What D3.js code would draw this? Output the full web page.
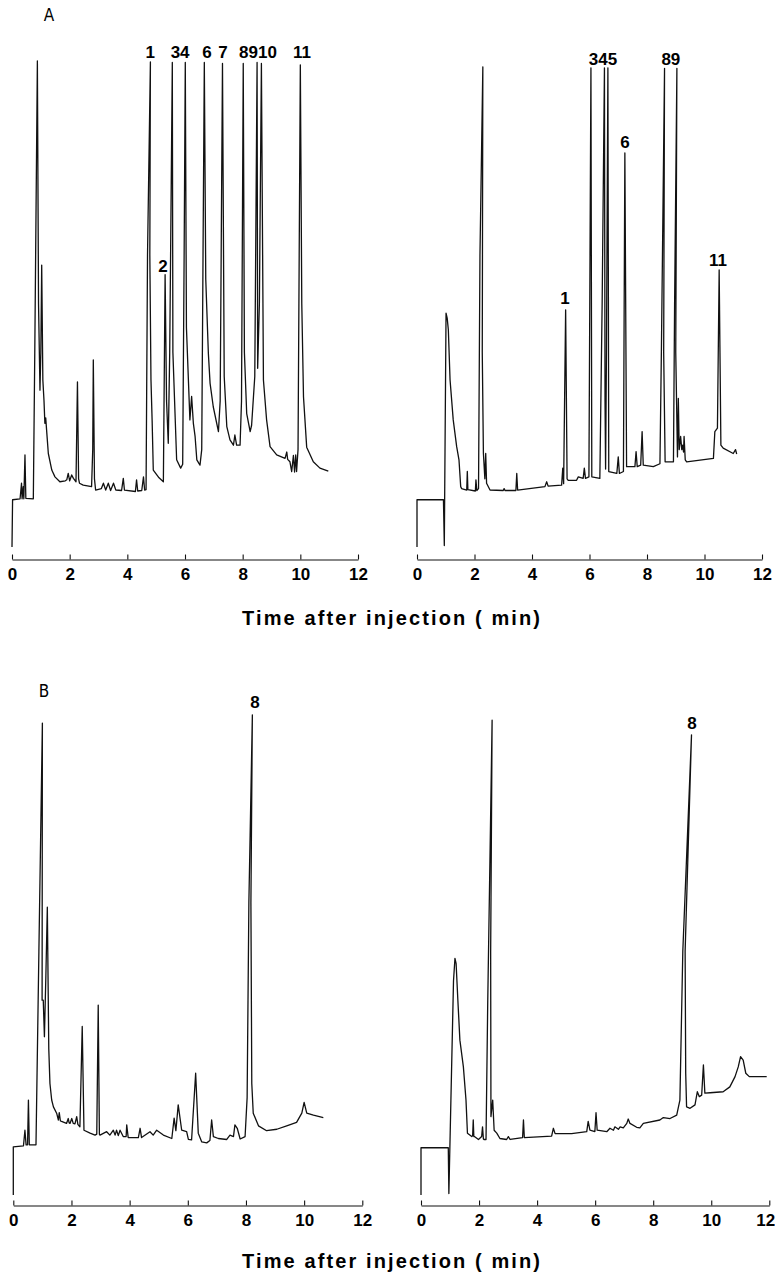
<!DOCTYPE html>
<html>
<head>
<meta charset="utf-8">
<script src="https://cdn.jsdelivr.net/npm/d3@7"></script>
<style>
  body { margin: 0; background: #fff; }
  svg { display: block; }
  .trace { fill: none; stroke: #111; stroke-width: 1.3; stroke-linejoin: round; }
  .axis path, .axis line { stroke: #111; stroke-width: 1.1; }
  .axis text { font-family: "Liberation Sans", Arial, sans-serif; font-weight: bold; font-size: 17px; fill: #000; }
  .peak { font-family: "Liberation Sans", Arial, sans-serif; font-weight: bold; font-size: 17px; fill: #000; text-anchor: middle; }
  .panel { font-family: "Liberation Sans Narrow", "DejaVu Sans Condensed", sans-serif; font-size: 17px; fill: #000; text-anchor: middle; }
  .title { font-family: "Liberation Sans", Arial, sans-serif; font-weight: bold; font-size: 20px; fill: #000; text-anchor: middle; }
</style>
</head>
<body>
<script>
//tick values shared by every time axis (min)
var timeTicks = [0, 2, 4, 6, 8, 10, 12];
var axisTitle = "Time after injection ( min)";
var panelNames = ["A", "B"];

//chromatogram traces, [time (min), detector response (% full scale)]
var traceA1 = [[0,0],[0.02,9.7],[0.28,9.9],[0.33,13.1],[0.35,9.9],[0.39,12.4],[0.41,9.9],[0.45,18.9],[0.48,10.0],
    [0.74,9.9],[0.79,40],[0.88,99.8],[0.92,50],[0.97,32.2],[1.0,40],[1.03,57.9],[1.07,34.3],[1.11,30],[1.14,25.4],
    [1.17,26.5],[1.20,24.0],[1.26,19.2],[1.38,15.8],[1.49,14.4],[1.66,13.4],[1.85,13.6],[1.90,13.8],[1.95,15.1],
    [2.0,13.6],[2.07,14.8],[2.13,14.1],[2.22,13.4],[2.27,33.9],[2.31,14],[2.34,13.1],[2.47,12.7],[2.76,12.4],
    [2.80,20],[2.82,38.4],[2.86,14],[2.90,11.7],[3.1,12.0],[3.17,13.1],[3.25,11.7],[3.34,13.1],[3.42,11.6],
    [3.52,13.1],[3.6,11.7],[3.8,11.6],[3.86,14.1],[3.9,11.7],[4.28,11.4],[4.32,13.8],[4.36,11.5],[4.50,11.6],
    [4.56,14.4],[4.60,11.7],[4.65,11.8],[4.70,60],[4.80,99.6],[4.78,60],[4.82,34.3],[4.86,26],[4.90,15.8],
    [5.1,14.2],[5.25,13.4],[5.31,55.9],[5.36,30],[5.42,21.3],[5.47,40],[5.56,99.5],[5.58,40],[5.71,17.9],
    [5.85,16.2],[5.92,17.0],[5.97,60],[6.01,99.5],[6.05,45],[6.17,26.1],[6.23,30.9],[6.29,25.4],[6.35,22.7],
    [6.41,17.9],[6.52,16.8],[6.58,20],[6.67,99.5],[6.72,55],[6.81,39.8],[6.87,33.6],[6.98,28.8],[7.16,23.7],
    [7.22,30],[7.30,99.3],[7.36,35],[7.45,24.7],[7.56,22.0],[7.68,20.9],[7.73,23.0],[7.79,20.9],[7.91,20.9],
    [7.96,30],[8.02,99.3],[8.06,40],[8.14,27.4],[8.26,23.7],[8.31,25.0],[8.42,35],[8.50,99.5],[8.52,36.7],
    [8.58,50],[8.65,99.3],[8.72,34.3],[8.83,26.1],[8.95,20.6],[9.18,18.9],[9.47,18.2],[9.53,19.5],[9.56,18.0],
    [9.64,17.5],[9.70,15.5],[9.76,18.8],[9.80,15.4],[9.84,18.9],[9.87,15.5],[9.92,20],[10.0,99.0],[10.05,50],
    [10.11,30.8],[10.22,20.5],[10.45,17.5],[10.68,16.2],[10.97,15.6]];

var traceA2 = [[0,0],[0,9.7],[0.92,9.7],[0.95,0.3],[1.01,48.0],[1.05,47.0],[1.09,44.6],[1.15,34.3],[1.26,26.1],
    [1.38,20.6],[1.46,17.9],[1.52,12.4],[1.55,12.0],[1.73,11.7],[1.75,15.5],[1.77,11.8],[2.03,11.5],[2.05,13.8],
    [2.08,11.6],[2.14,12],[2.19,60],[2.29,98.6],[2.27,40],[2.31,19.2],[2.36,14],[2.39,19.2],[2.42,13.1],
    [2.54,11.7],[3.0,11.6],[3.03,12.0],[3.06,11.6],[3.44,11.6],[3.47,15.1],[3.50,11.7],[4.45,12.4],[4.51,13.4],
    [4.56,12.5],[5.03,12.7],[5.07,16.2],[5.10,13],[5.17,48.7],[5.22,14],[5.26,13.7],[5.55,13.7],[5.61,14.4],
    [5.78,14.1],[5.82,16.2],[5.86,14.1],[5.98,14.4],[6.05,98.4],[6.08,14.4],[6.36,14.1],[6.44,50],[6.52,98.4],
    [6.54,30],[6.56,16],[6.59,40],[6.64,98.4],[6.67,15.5],[6.95,15.1],[7.00,18.5],[7.04,15.1],[7.18,15.5],
    [7.23,80.9],[7.29,16.5],[7.58,16.5],[7.62,19.6],[7.66,16.5],[7.78,16.8],[7.83,23.7],[7.87,16.8],[8.22,16.5],
    [8.45,17.1],[8.50,40],[8.61,98.3],[8.58,40],[8.63,17.5],[8.92,17.5],[8.96,50],[9.04,98.3],[9.00,40],
    [9.06,18.5],[9.09,30.5],[9.12,20.0],[9.17,22.7],[9.21,20],[9.24,20.9],[9.27,19.5],[9.29,22.7],[9.33,17.9],
    [9.38,17.5],[10.31,18.2],[10.36,23.7],[10.45,24.4],[10.51,56.9],[10.57,20.9],[10.65,20.3],[11.0,19.2],
    [11.08,20.0],[11.12,19.1]];

var traceB1 = [[0,0],[0,9.9],[0.35,10.1],[0.40,13.3],[0.44,10.3],[0.49,10.3],[0.52,19.5],[0.55,10.3],[0.78,10.3],
    [0.88,50],[1.0,96.9],[0.99,40],[1.03,40.0],[1.07,32.5],[1.12,45],[1.17,59.1],[1.22,30],[1.26,22.9],
    [1.32,19.5],[1.38,18.1],[1.49,16.8],[1.55,15.4],[1.58,16.9],[1.62,15.2],[1.66,15.1],[1.83,14.7],[1.89,15.7],
    [1.92,14.8],[1.95,14.7],[2.01,15.7],[2.06,14.7],[2.12,14.6],[2.18,16.1],[2.22,14.5],[2.29,14.0],[2.37,34.6],
    [2.43,13.3],[2.64,12.7],[2.81,12.3],[2.87,12.5],[2.92,39.0],[2.96,12.5],[2.98,12.3],[3.21,13.0],[3.32,12.3],
    [3.44,13.3],[3.50,12.3],[3.55,13.3],[3.61,12.2],[3.67,13.3],[3.78,12.0],[3.88,12],[3.90,14.4],[3.95,11.8],
    [4.30,11.8],[4.36,13.7],[4.41,11.8],[4.70,13.0],[4.81,12.3],[4.93,13.3],[5.16,12.3],[5.45,11.6],[5.53,15.8],
    [5.59,13.2],[5.67,18.5],[5.79,13.3],[5.96,13.0],[6.02,11.4],[6.13,11.3],[6.27,25.0],[6.36,12.7],[6.48,10.9],
    [6.65,10.7],[6.76,11.2],[6.82,15.4],[6.88,12.0],[7.05,11.6],[7.34,11.4],[7.45,12.3],[7.57,12.0],[7.62,14.4],
    [7.70,13.7],[7.80,11.5],[7.97,12.0],[8.04,20],[8.10,60],[8.22,98.6],[8.17,60],[8.20,22.9],[8.25,16.8],
    [8.43,14.2],[8.71,13.2],[9.06,13.5],[9.40,14.2],[9.74,14.9],[9.92,16.8],[10.0,19.0],[10.09,16.8],
    [10.32,16.4],[10.66,15.9]];

var traceB2 = [[0,0],[0,9.7],[0.94,9.7],[0.96,0.3],[1.12,44],[1.17,48.6],[1.21,47.5],[1.27,40.0],[1.34,31.8],
    [1.46,26.3],[1.55,19.5],[1.60,12.7],[1.75,12.0],[1.78,12.2],[1.80,15.4],[1.82,12],[1.84,12.0],[1.98,11.4],
    [2.09,12.0],[2.12,14.0],[2.15,11.5],[2.17,11.4],[2.24,11.4],[2.30,40],[2.45,97.5],[2.40,50],[2.41,16.1],
    [2.47,19.5],[2.52,13.3],[2.61,12.7],[2.72,11.6],[2.95,11.4],[3.01,12.0],[3.07,11.4],[3.50,11.8],[3.53,15.4],
    [3.56,11.8],[4.50,12.1],[4.56,13.7],[4.62,12.6],[5.19,12.6],[5.71,13.0],[5.76,15.1],[5.82,13.3],[5.99,13.0],
    [6.03,16.9],[6.07,13.3],[6.40,13.0],[6.51,13.7],[6.63,13.3],[6.68,14.0],[6.80,13.5],[6.86,14.0],[6.97,13.8],
    [7.09,14.7],[7.14,15.6],[7.20,14.7],[7.43,13.9],[7.54,13.8],[7.66,14.7],[8.23,15.4],[8.35,15.9],[8.58,15.7],
    [8.81,16.4],[8.92,19.5],[9.02,50],[9.32,94.5],[9.10,50],[9.12,25],[9.15,18.1],[9.27,17.8],[9.44,18.5],
    [9.52,21.2],[9.59,20.2],[9.67,20.5],[9.73,26.7],[9.78,20.9],[9.96,21.0],[10.41,21.2],[10.64,22.2],
    [10.82,24.3],[10.93,26.3],[11.01,28.4],[11.10,27.7],[11.19,25.0],[11.31,24.3],[11.91,24.3]];

//peak numbers: label text, time (min), response at text baseline
var peaksA1 = [["1",4.79,100.4],["34",5.83,100.4],["6",6.76,100.4],["7",7.32,100.4],["8910",8.53,100.4],
    ["11",10.06,100.4],["2",5.24,56.5]];
var peaksA2 = [["345",6.47,99.0],["89",8.83,99.0],["6",7.23,81.9],["11",10.47,57.6],["1",5.15,49.9]];
var peaksB1 = [["8",8.31,100.1]];
var peaksB2 = [["8",9.34,95.6]];

window.onload = drawFigure();

function drawFigure(){
    var width = 775,
        height = 1281;

    var svg = d3.select("body")
        .append("svg")
        .attr("width", width)
        .attr("height", height);

    //one row per figure part, response scale shared by both traces in a row
    var yA = d3.scaleLinear().domain([0, 100]).range([547, 60]);
    var yB = d3.scaleLinear().domain([0, 100]).range([1195, 708]);

    var xA1 = d3.scaleLinear().domain([0, 12]).range([12, 358]);
    var xA2 = d3.scaleLinear().domain([0, 12]).range([417, 762]);
    var xB1 = d3.scaleLinear().domain([0, 12]).range([13.3, 362.3]);
    var xB2 = d3.scaleLinear().domain([0, 12]).range([421, 769.3]);

    drawTrace(svg, traceA1, xA1, yA, peaksA1, 559.5);
    drawTrace(svg, traceA2, xA2, yA, peaksA2, 559.5);
    drawTrace(svg, traceB1, xB1, yB, peaksB1, 1205.5);
    var axisB2 = drawTrace(svg, traceB2, xB2, yB, peaksB2, 1205.5);

    //last label sits on the page edge, pull it in so it stays readable
    axisB2.selectAll(".tick text")
        .filter(function(d){ return d == 12; })
        .attr("dx", -4);

    //panel letters
    svg.append("text").attr("class", "panel").attr("x", 49).attr("y", 21).text(panelNames[0]);
    svg.append("text").attr("class", "panel").attr("x", 44).attr("y", 697).text(panelNames[1]);

    //shared axis titles under each row
    [625, 1268].forEach(function(yy){
        svg.append("text")
            .attr("class", "title")
            .attr("x", 391)
            .attr("y", yy)
            .attr("textLength", 298)
            .attr("lengthAdjust", "spacing")
            .text(axisTitle);
    });
};

function drawTrace(svg, data, x, y, peaks, axisY){
    var line = d3.line()
        .x(function(d){ return x(d[0]); })
        .y(function(d){ return y(d[1]); });

    svg.append("path")
        .datum(data)
        .attr("class", "trace")
        .attr("d", line);

    //time axis with ticks pointing up
    var axis = svg.append("g")
        .attr("class", "axis")
        .attr("transform", "translate(0," + axisY + ")")
        .call(d3.axisBottom(x)
            .tickValues(timeTicks)
            .tickSizeInner(-5)
            .tickSizeOuter(0)
            .tickPadding(8)
            .tickFormat(d3.format("d")));

    svg.selectAll(null)
        .data(peaks)
        .enter()
        .append("text")
        .attr("class", "peak")
        .attr("x", function(d){ return x(d[1]); })
        .attr("y", function(d){ return y(d[2]); })
        .text(function(d){ return d[0]; });

    return axis;
};
</script>
</body>
</html>
